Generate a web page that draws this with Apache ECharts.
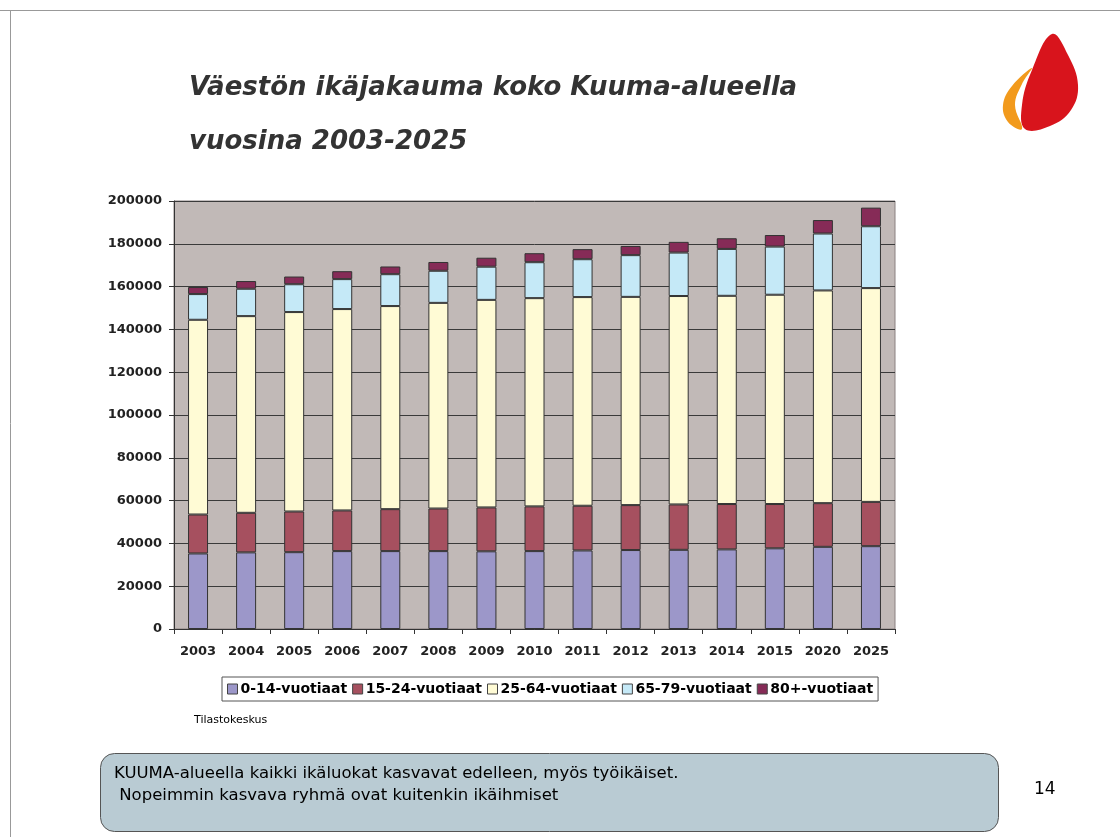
<!DOCTYPE html>
<html>
<head>
<meta charset="utf-8">
<script src="https://cdn.jsdelivr.net/npm/echarts@6/dist/echarts.min.js"></script>
<style>
  html, body { margin: 0; padding: 0; background: #fff; }
  #chart { width: 1120px; height: 837px; }
</style>
</head>
<body>
<div id="chart"></div>
<script>
// vuodet ja ikäryhmät
const years = ['2003', '2004', '2005', '2006', '2007', '2008', '2009', '2010', '2011', '2012', '2013', '2014', '2015', '2020', '2025']
const age0_14 = [35300, 35800, 35900, 36400, 36400, 36400, 36300, 36400, 36700, 36900, 37000, 37200, 37700, 38400, 38700]
const age15_24 = [18200, 18500, 19000, 19000, 19600, 19900, 20500, 20900, 20900, 21000, 21200, 21200, 20700, 20400, 20700]
const age25_64 = [91000, 91900, 93200, 94100, 94900, 96100, 97000, 97300, 97500, 97300, 97400, 97300, 97800, 99400, 99900]
const age65_79 = [12000, 12800, 13000, 14000, 14900, 15000, 15500, 16800, 17700, 19500, 20300, 21900, 22500, 26600, 28900]
const age80 = [3300, 3600, 3600, 3700, 3600, 4100, 4200, 4200, 4700, 4300, 5000, 5000, 5400, 6300, 8700]
const seriesNames = ['0-14-vuotiaat', '15-24-vuotiaat', '25-64-vuotiaat', '65-79-vuotiaat', '80+-vuotiaat']
const colors = ['#9C97C9', '#A6505F', '#FFFBD5', '#C5E9F7', '#862B57']

const FONT = 'DejaVu Sans, Liberation Sans, sans-serif'
const chart = echarts.init(document.getElementById('chart'))

const makeSeries = (name, data, color) => ({
  name: name,
  type: 'bar',
  stack: 'total',
  data: data,
  barWidth: 20,
  itemStyle: {
    color: color,
    borderColor: '#333',
    borderWidth: 1
  }
})

const option = {
  animation: false,
  backgroundColor: '#fff',
  textStyle: { fontFamily: FONT },
  title: {
    text: 'Väestön ikäjakauma koko Kuuma-alueella\n\nvuosina 2003-2025',
    left: 184,
    top: 70,
    textStyle: {
      fontSize: 26,
      fontWeight: 'bold',
      fontStyle: 'italic',
      fontFamily: FONT,
      color: '#333',
      lineHeight: 27
    }
  },
  legend: {
    left: 222,
    top: 677,
    padding: [5, 5, 5, 5],
    itemGap: 5,
    itemWidth: 10,
    itemHeight: 10,
    icon: 'rect',
    borderColor: '#555',
    borderWidth: 1,
    data: seriesNames,
    textStyle: { fontSize: 14, fontWeight: 'bold', color: '#000', fontFamily: FONT, padding: [0, 0, 0, -2] },
    itemStyle: { borderColor: '#444', borderWidth: 1 }
  },
  grid: {
    left: 174,
    right: 225,
    top: 201,
    bottom: 208,
    show: true,
    backgroundColor: '#C1B9B7',
    borderColor: '#8a8080',
    borderWidth: 1
  },
  xAxis: {
    type: 'category',
    data: years,
    axisLine: { lineStyle: { color: '#333', width: 1 } },
    axisTick: { show: true, length: 5, lineStyle: { color: '#333' } },
    axisLabel: { fontSize: 13, fontWeight: 'bold', color: '#222', fontFamily: FONT, margin: 16 }
  },
  yAxis: {
    type: 'value',
    min: 0,
    max: 200000,
    interval: 20000,
    axisLine: { show: true, lineStyle: { color: '#333' } },
    axisTick: { show: true, length: 5, lineStyle: { color: '#333' } },
    axisLabel: { fontSize: 13, fontWeight: 'bold', color: '#222', fontFamily: FONT, margin: 12, formatter: v => String(v) },
    splitLine: { lineStyle: { color: '#3a3a3a', width: 1 } }
  },
  series: [
    makeSeries(seriesNames[0], age0_14, colors[0]),
    makeSeries(seriesNames[1], age15_24, colors[1]),
    makeSeries(seriesNames[2], age25_64, colors[2]),
    makeSeries(seriesNames[3], age65_79, colors[3]),
    makeSeries(seriesNames[4], age80, colors[4])
  ],
  graphic: [
    // dian reunat
    { type: 'line', shape: { x1: 0, y1: 10.5, x2: 1120, y2: 10.5 }, style: { stroke: '#999', lineWidth: 1 } },
    { type: 'line', shape: { x1: 10.5, y1: 10, x2: 10.5, y2: 837 }, style: { stroke: '#999', lineWidth: 1 } },
    // logo
    {
      type: 'polygon',
      shape: {
        points: [[1032, 68], [1012, 86], [1003, 105], [1008, 122], [1022, 129], [1015, 105], [1022, 84]],
        smooth: 0.4
      },
      style: { fill: '#F29A1C' }
    },
    {
      type: 'polygon',
      shape: {
        points: [[1052, 34], [1068, 55], [1078, 85], [1071, 110], [1050, 126], [1025, 129], [1022, 105], [1032, 70]],
        smooth: 0.4
      },
      style: { fill: '#D8141C' }
    },
    {
      type: 'text',
      left: 194,
      top: 715,
      style: { text: 'Tilastokeskus', fontSize: 11, fill: '#000', fontFamily: FONT }
    },
    {
      type: 'rect',
      shape: { x: 100.5, y: 753.5, width: 898, height: 78, r: 14 },
      style: { fill: '#B9CBD3', stroke: '#555', lineWidth: 1 }
    },
    {
      type: 'text',
      left: 114,
      top: 763,
      style: {
        text: 'KUUMA-alueella kaikki ikäluokat kasvavat edelleen, myös työikäiset.\n Nopeimmin kasvava ryhmä ovat kuitenkin ikäihmiset',
        fontSize: 16.5,
        lineHeight: 22,
        fill: '#000',
        fontFamily: FONT
      }
    },
    {
      type: 'text',
      left: 1034,
      top: 781,
      style: { text: '14', fontSize: 17, fill: '#000', fontFamily: FONT }
    }
  ]
}

chart.setOption(option)
window.addEventListener('resize', () => chart.resize())
</script>
</body>
</html>
